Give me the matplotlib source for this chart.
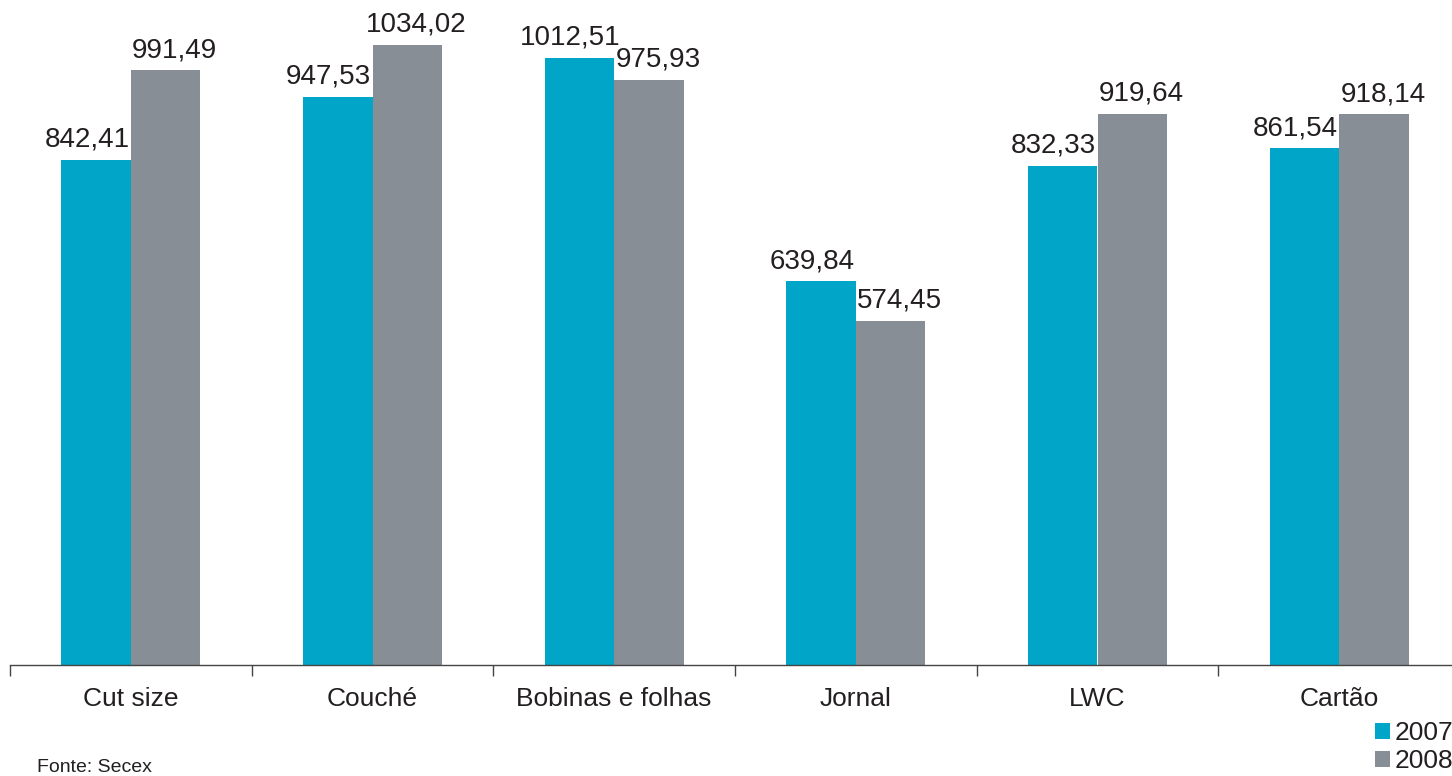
import matplotlib.pyplot as plt
import numpy as np

plt.rcParams['font.family'] = ['Liberation Sans', 'DejaVu Sans']

categorias = ['Cut size', 'Couché', 'Bobinas e folhas', 'Jornal', 'LWC', 'Cartão']
valores_2007 = [842.41, 947.53, 1012.51, 639.84, 832.33, 861.54]
valores_2008 = [991.49, 1034.02, 975.93, 574.45, 919.64, 918.14]

azul = '#00a5c8'
cinza = '#878e95'
texto = '#231f20'

fig = plt.figure(figsize=(14.52, 7.76), dpi=100)
ax = fig.add_axes([10 / 1452, 111 / 776, 1450 / 1452, 665 / 776])

x = np.arange(len(categorias))
w = 0.288
b1 = ax.bar(x - w / 2, valores_2007, w, color=azul, label='2007')
b2 = ax.bar(x + w / 2, valores_2008, w, color=cinza, label='2008')

# rótulos de valor, afastados um pouco para fora do par de barras
fmt = lambda v: f'{v:.2f}'.replace('.', ',')
for xi, v in zip(x - w / 2, valores_2007):
    ax.annotate(fmt(v), (xi, v), xytext=(-9, 7), textcoords='offset pixels',
                ha='center', va='bottom', fontsize=20, color=texto)
for xi, v in zip(x + w / 2, valores_2008):
    ax.annotate(fmt(v), (xi, v), xytext=(9, 7), textcoords='offset pixels',
                ha='center', va='bottom', fontsize=20, color=texto)

ax.set_xlim(-0.5, len(categorias) - 0.5)
ax.set_ylim(0, 1109)
ax.set_xticks(x)
ax.set_xticklabels(categorias, fontsize=19, color=texto)
ax.set_xticks(np.arange(len(categorias) + 1) - 0.5, minor=True)
ax.tick_params(axis='x', which='major', length=0, pad=16)
ax.tick_params(axis='x', which='minor', length=8, width=1, color='#444444', direction='out')
ax.set_yticks([])
for s in ['top', 'right', 'left']:
    ax.spines[s].set_visible(False)
ax.spines['bottom'].set_color('#444444')
ax.spines['bottom'].set_linewidth(1)

fig.legend(handles=[b1, b2], loc='upper left', bbox_to_anchor=(1375 / 1452, 1 - 721 / 776),
           frameon=False, fontsize=19, handlelength=0.55, handleheight=0.55,
           handletextpad=0.2, labelspacing=0.15, borderaxespad=0, borderpad=0,
           labelcolor=texto)

fig.text(37 / 1452, 1 - 772 / 776, 'Fonte: Secex', fontsize=14, color=texto, va='baseline')

fig.savefig('out.png', dpi=100)
